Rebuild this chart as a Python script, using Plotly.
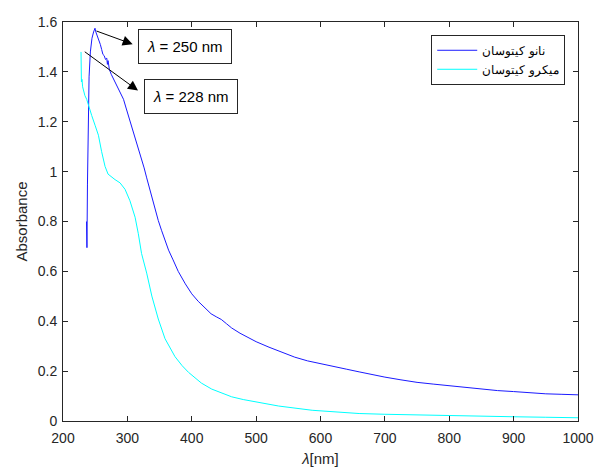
import plotly.graph_objects as go

# ---- data ----
nano_wavelength = [236.5, 237.2, 238.0, 239.0, 240.5, 242.5, 245, 247.5, 249.7, 251, 252.5, 254, 256, 258,
                   260, 262, 264, 266, 268, 269, 270, 272, 275, 278, 281, 284, 287, 290, 294, 298, 301,
                   304, 307, 310, 314, 318, 322, 326, 330, 334, 338, 343, 348, 353, 358, 364, 371, 379,
                   390, 400, 410, 420, 430, 438, 446, 454, 462, 475, 490, 500, 520, 540, 560, 580, 600,
                   620, 640, 660, 680, 700, 725, 750, 775, 800, 825, 850, 875, 900, 925, 950, 975, 1000]
nano_absorbance = [0.80, 0.695, 0.95, 1.20, 1.38, 1.48, 1.535, 1.56, 1.575, 1.56, 1.55, 1.535, 1.525, 1.51,
                   1.49, 1.47, 1.465, 1.45, 1.455, 1.43, 1.445, 1.41, 1.39, 1.375, 1.36, 1.345, 1.33, 1.315,
                   1.29, 1.255, 1.23, 1.20, 1.175, 1.152, 1.12, 1.09, 1.054, 1.015, 0.975, 0.935, 0.896,
                   0.85, 0.804, 0.765, 0.725, 0.685, 0.646, 0.60, 0.55, 0.51, 0.48, 0.455, 0.43, 0.418,
                   0.407, 0.39, 0.373, 0.352, 0.332, 0.318, 0.296, 0.275, 0.256, 0.241, 0.229, 0.219,
                   0.208, 0.197, 0.186, 0.176, 0.165, 0.155, 0.148, 0.1415, 0.134, 0.127, 0.122, 0.118,
                   0.113, 0.109, 0.107, 0.105]

micro_wavelength = [228, 228.3, 228.6, 229.5, 230.5, 232, 234, 236.8, 240.4, 244.6, 249.8, 255, 260, 265.3,
                    270, 275, 280.8, 288.6, 296.4, 304, 308, 312, 317, 322, 330, 338, 348, 358.5, 374,
                    385, 395, 405, 415, 431, 441, 462, 480, 499, 535, 587, 640, 660, 700, 750, 800, 850,
                    900, 950, 1000]
micro_absorbance = [1.48, 1.40, 1.36, 1.37, 1.34, 1.32, 1.305, 1.29, 1.258, 1.225, 1.186, 1.146, 1.08, 1.021,
                    0.99, 0.978, 0.968, 0.955, 0.929, 0.883, 0.85, 0.817, 0.751, 0.672, 0.593, 0.501, 0.409,
                    0.33, 0.258, 0.222, 0.195, 0.175, 0.152, 0.128, 0.118, 0.097, 0.086, 0.076, 0.060, 0.043,
                    0.033, 0.030, 0.027, 0.024, 0.021, 0.019, 0.017, 0.015, 0.013]

series_names = ["نانو کیتوسان", "میکرو کیتوسان"]
x_ticks = [200, 300, 400, 500, 600, 700, 800, 900, 1000]
y_ticks = [0, 0.2, 0.4, 0.6, 0.8, 1, 1.2, 1.4, 1.6]

# peak annotations
peak_labels = ["<i>λ</i> = 250 nm", "<i>λ</i> = 228 nm"]
arrow_tail_x = [249.7, 231.5]
arrow_tail_y = [1.566, 1.485]
arrow_head_x = [308.2, 316.5]
arrow_head_y = [1.511, 1.325]
box_x = [389.5, 399.4]
box_y = [1.501, 1.301]

FONT = "Liberation Sans, Arial, sans-serif"
AX = "#262626"

fig = go.Figure()
fig.add_trace(go.Scatter(x=nano_wavelength, y=nano_absorbance, mode="lines",
                         name=series_names[0], line=dict(color="#1a1aff", width=1)))
fig.add_trace(go.Scatter(x=micro_wavelength, y=micro_absorbance, mode="lines",
                         name=series_names[1], line=dict(color="#00FFFF", width=1)))

for i in range(2):
    fig.add_annotation(x=arrow_head_x[i], y=arrow_head_y[i], ax=arrow_tail_x[i], ay=arrow_tail_y[i],
                       xref="x", yref="y", axref="x", ayref="y", text="", showarrow=True,
                       arrowhead=2, arrowsize=2, arrowwidth=1, arrowcolor="black")
    fig.add_annotation(x=box_x[i], y=box_y[i], xref="x", yref="y", text=peak_labels[i],
                       showarrow=False, font=dict(family=FONT, size=15, color="black"),
                       bordercolor="#262626", borderwidth=1, borderpad=8, bgcolor="white")

axis_common = dict(showline=True, linecolor=AX, linewidth=1, mirror="ticks", ticks="inside",
                   ticklen=5, tickcolor=AX, showgrid=False, zeroline=False,
                   ticklabeloverflow="allow",
                   tickfont=dict(family=FONT, size=14, color=AX))

# the page body adds an 8px offset, so margins are shifted to keep the plot area in place
fig.update_layout(
    width=605, height=470,
    margin=dict(l=55, r=35, t=6, b=57),
    plot_bgcolor="white", paper_bgcolor="white",
    font=dict(family=FONT, color=AX),
    xaxis=dict(range=[200, 1000], tickvals=x_ticks, ticklabelstandoff=4,
               title=dict(text="<i>λ</i>[nm]", font=dict(family=FONT, size=15, color=AX), standoff=8),
               **axis_common),
    yaxis=dict(range=[0, 1.6], tickvals=y_ticks, ticklabelstandoff=2,
               title=dict(text="Absorbance", font=dict(family=FONT, size=15, color=AX), standoff=6),
               **axis_common),
    showlegend=True,
    legend=dict(x=0.715, y=0.968, xanchor="left", yanchor="top", bgcolor="white",
                bordercolor=AX, borderwidth=1, font=dict(family=FONT, size=12, color="black"),
                tracegroupgap=0, itemwidth=40),
)

fig.write_html("out.html")
